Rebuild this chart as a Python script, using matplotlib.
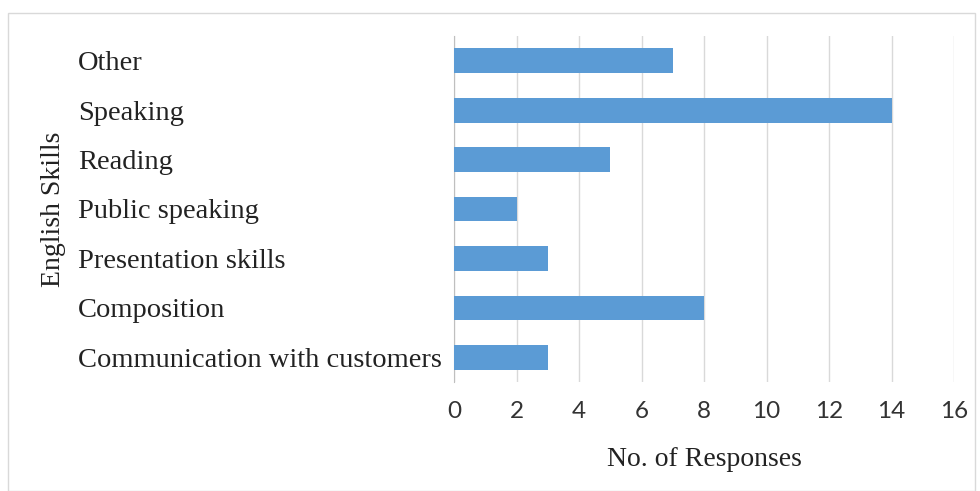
import matplotlib.pyplot as plt
from matplotlib.patches import Rectangle

skills = ['Communication with customers', 'Composition', 'Presentation skills',
          'Public speaking', 'Reading', 'Speaking', 'Other']
responses = [3, 8, 3, 2, 5, 14, 7]
xticks = [0, 2, 4, 6, 8, 10, 12, 14, 16]

fig = plt.figure(figsize=(9.8, 4.91), dpi=100)
ax = fig.add_axes([454/980, 1 - 382/491, 500/980, 346/491])

# border around the chart area
fig.patches.append(Rectangle((8/980, 0), 967/980, 1 - 13/491, transform=fig.transFigure,
                             fill=False, edgecolor='#D9D9D9', linewidth=1))

ax.barh(range(len(skills)), responses, height=0.5, color='#5B9BD5', zorder=3)
ax.set_xlim(0, 16)
ax.set_ylim(-0.5, len(skills) - 0.5)
ax.set_xticks(xticks)
ax.set_yticks(range(len(skills)))
ax.set_yticklabels(skills, fontfamily='Liberation Serif', fontsize=20.5, color='#222222', ha='left')
ax.set_xticklabels([str(t) for t in xticks], fontfamily='Lato', fontsize=17.5, color='#333333')
ax.tick_params(axis='y', length=0, pad=270.7)
ax.tick_params(axis='x', length=0, pad=14)
ax.grid(axis='x', color='#D9D9D9', linewidth=1, zorder=0)

for s in ['top', 'right', 'bottom']:
    ax.spines[s].set_visible(False)
ax.spines['left'].set_color('#BFBFBF')

ax.set_xlabel('No. of Responses', fontfamily='Liberation Serif', fontsize=20, color='#222222')
ax.xaxis.set_label_coords(0.5, -0.225)
ax.xaxis.label.set_va('center')
ax.set_ylabel('English Skills', fontfamily='Liberation Serif', fontsize=20, color='#222222')
ax.yaxis.set_label_coords(-0.80, 0.5)
ax.yaxis.label.set_va('center')

fig.savefig('out.png', dpi=100)
